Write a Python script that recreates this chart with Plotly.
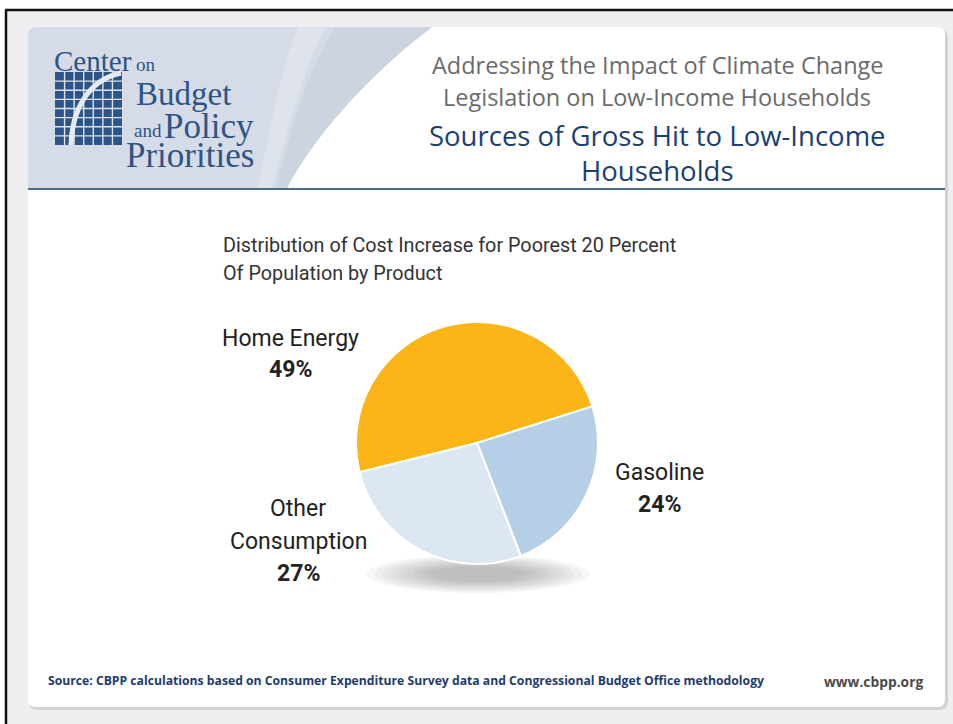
import plotly.graph_objects as go

# ---------------- data ----------------
categories = ["Home Energy", "Gasoline", "Other Consumption"]
shares = [49, 24, 27]
slice_colors = ["#FBB516", "#B5CFE6", "#DCE7F2"]
# label text lines per category (name lines), percentage appended from shares
label_name_lines = [["Home Energy"], ["Gasoline"], ["Other", "Consumption"]]

title_gray = ["Addressing the Impact of Climate Change", "Legislation on Low-Income Households"]
title_blue = ["Sources of Gross Hit to Low-Income", "Households"]
chart_subtitle = ["Distribution of Cost Increase for Poorest 20 Percent", "Of Population by Product"]
source_text = "Source: CBPP calculations based on Consumer Expenditure Survey data and Congressional Budget Office methodology"
site_text = "www.cbpp.org"

W, H = 953, 724
NARROW = "Roboto, Liberation Sans Narrow, sans-serif"
SANS = "Open Sans, Noto Sans, sans-serif"
SERIF = "Liberation Serif, DejaVu Serif, serif"


def rrect(x0, y0, x1, y1, r):
    return (f"M {x0+r},{y0} L {x1-r},{y0} Q {x1},{y0} {x1},{y0+r} "
            f"L {x1},{y1-r} Q {x1},{y1} {x1-r},{y1} L {x0+r},{y1} "
            f"Q {x0},{y1} {x0},{y1-r} L {x0},{y0+r} Q {x0},{y0} {x0+r},{y0} Z")


shapes = []
# outer background
shapes.append(dict(type="rect", x0=7, y0=11, x1=W, y1=H, fillcolor="#EFEFF1", line_width=0, layer="below"))
# black frame lines
shapes.append(dict(type="line", x0=5, y0=10, x1=W, y1=10, line=dict(color="#111111", width=2.5), layer="below"))
shapes.append(dict(type="line", x0=6, y0=10, x1=6, y1=H, line=dict(color="#111111", width=2.5), layer="below"))
# card shadow + card
shapes.append(dict(type="path", path=rrect(29, 29, 948, 710, 9), fillcolor="#D2D2D6", line_width=0, layer="below"))
shapes.append(dict(type="path", path=rrect(28, 27, 945, 707, 8), fillcolor="#FFFFFF", line_width=0, layer="below"))
# header blue area with curved edge
shapes.append(dict(type="path",
                   path="M 28,35 Q 28,27 36,27 L 432,27 C 385,62 320,125 287,188 L 28,188 Z",
                   fillcolor="#D5DCE8", line_width=0, layer="below"))
# darker band near curl edge
shapes.append(dict(type="path",
                   path="M 335,27 L 432,27 C 385,62 320,125 287,188 L 276,188 C 292,125 308,70 335,27 Z",
                   fillcolor="#CCD4E0", line_width=0, layer="below"))
# lighter swoosh highlight
shapes.append(dict(type="path",
                   path="M 298,27 L 325,27 C 303,70 288,130 272,188 L 258,188 C 270,130 280,70 298,27 Z",
                   fillcolor="#DFE4EC", line_width=0, layer="below"))
# header separator line
shapes.append(dict(type="line", x0=28, y0=189, x1=945, y1=189, line=dict(color="#4F6788", width=2), layer="below"))

# logo icon: blue grid with white arc
ix0, iy0, ix1, iy1 = 55, 72, 122, 145
logo_blue = "#2D5486"
shapes.append(dict(type="rect", x0=ix0, y0=iy0, x1=ix1, y1=iy1, fillcolor=logo_blue, line_width=0, layer="below"))
ncol, nrow = 7, 8
for k in range(1, ncol):
    xx = ix0 + k * (ix1 - ix0) / ncol
    shapes.append(dict(type="line", x0=xx, y0=iy0, x1=xx, y1=iy1, line=dict(color="#DCE3EE", width=1.4), layer="below"))
for k in range(1, nrow):
    yy = iy0 + k * (iy1 - iy0) / nrow
    shapes.append(dict(type="line", x0=ix0, y0=yy, x1=ix1, y1=yy, line=dict(color="#DCE3EE", width=1.4), layer="below"))
shapes.append(dict(type="path", path="M 71,145 C 72,110 88,80 121,73",
                   line=dict(color="#E6EBF2", width=5), layer="below"))

# shadow under pie (stacked soft ellipses)
cx, cy = 478, 574
for i in range(9):
    rx = 112 - i * 8
    ry = 19 - i * 1.4
    shapes.append(dict(type="circle", x0=cx - rx, x1=cx + rx, y0=cy - ry, y1=cy + ry,
                       fillcolor="rgba(60,60,60,0.045)", line_width=0, layer="below"))

annotations = []


def add_text(text, x, y, size, color, family, xanchor="center", bold=False, pad=1):
    t = f"<b>{text}</b>" if bold else text
    annotations.append(dict(text=t, x=x, y=y, xref="x", yref="y", xanchor=xanchor, yanchor="middle",
                            showarrow=False, borderpad=pad,
                            font=dict(size=size, color=color, family=family)))


# logo text
add_text("Center", 53, 61, 29, logo_blue, SERIF, "left", pad=0)
add_text("on", 135, 64, 19, logo_blue, SERIF, "left", pad=0)
add_text("Budget", 135, 94, 33, logo_blue, SERIF, "left", pad=0)
add_text("and", 133, 130, 19, logo_blue, SERIF, "left", pad=0)
add_text("Policy", 163, 126, 35, logo_blue, SERIF, "left", pad=0)
add_text("Priorities", 125, 155, 35, logo_blue, SERIF, "left", pad=0)

# header titles
add_text(title_gray[0], 658, 65, 23.5, "#6A6A6A", SANS)
add_text(title_gray[1], 657, 97, 23.5, "#6A6A6A", SANS)
add_text(title_blue[0], 657, 135, 27.5, "#1B3F73", SANS)
add_text(title_blue[1], 657, 170, 27.5, "#1B3F73", SANS)

# chart subtitle
add_text(chart_subtitle[0], 221, 245, 19.8, "#333333", NARROW, "left")
add_text(chart_subtitle[1], 221, 273, 19.8, "#333333", NARROW, "left")

# slice labels
label_pos = [(290, [338], 369), (659, [472], 504), (298, [508, 541], 573)]
for i, cat in enumerate(categories):
    lx, ys, py = label_pos[i]
    for line, yy in zip(label_name_lines[i], ys):
        add_text(line, lx, yy, 23, "#222222", NARROW)
    add_text(f"{shares[i]}%", lx, py, 23, "#222222", NARROW, bold=True)

# footer
add_text(source_text, 46, 680, 12.2, "#1E3B6E", SANS, "left", bold=True)
add_text(site_text, 873, 681, 13.8, "#4A4A4A", SANS, bold=True)

fig = go.Figure()
fig.add_trace(go.Scatter(x=[], y=[], showlegend=False, hoverinfo="skip"))
fig.add_trace(go.Pie(
    labels=categories, values=shares, sort=False, direction="clockwise", rotation=256,
    marker=dict(colors=slice_colors, line=dict(color="#FFFFFF", width=2)),
    textinfo="none", hoverinfo="label+percent", showlegend=False,
    domain=dict(x=[356 / W, 598 / W], y=[1 - 564 / H, 1 - 322 / H]),
))

fig.update_layout(
    width=W, height=H, margin=dict(l=0, r=0, t=0, b=0),
    paper_bgcolor="#FFFFFF", plot_bgcolor="rgba(0,0,0,0)",
    xaxis=dict(range=[0, W], visible=False, fixedrange=True, domain=[0, 1]),
    yaxis=dict(range=[H, 0], visible=False, fixedrange=True, domain=[0, 1]),
    shapes=shapes, annotations=annotations, showlegend=False,
)

fig.write_html("out.html", config={"displayModeBar": False},
               post_script="document.body.style.margin='0';")
